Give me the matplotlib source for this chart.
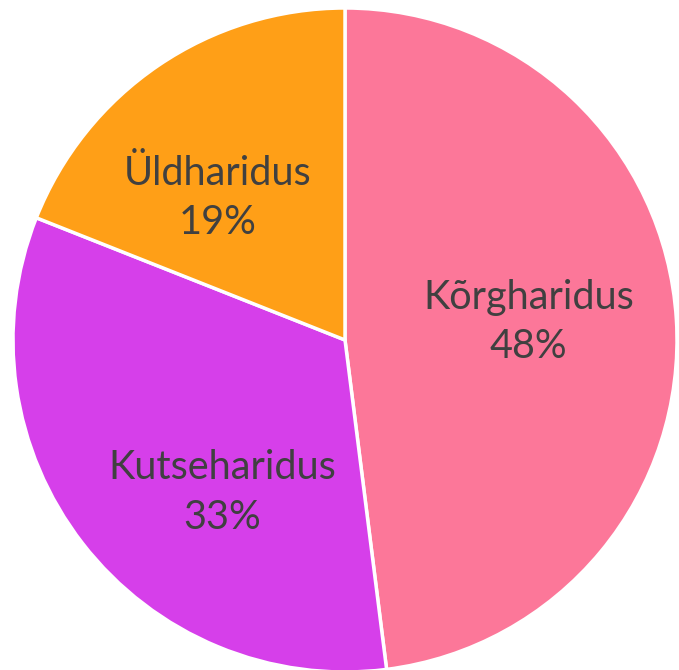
import numpy as np
import matplotlib.pyplot as plt

labels = ["Kõrgharidus", "Kutseharidus", "Üldharidus"]
shares = [48, 33, 19]
colors = ["#FC7799", "#D63FEA", "#FF9F17"]


def main():
    fig = plt.figure(figsize=(6.79, 6.70), dpi=100)
    ax = fig.add_axes([0, 0, 1, 1])

    # centre at (345, 340) px from top-left, radius 332 px
    R = 332
    wedges, _ = ax.pie(shares, colors=colors, startangle=90, counterclock=False,
                       radius=R, center=(0, 0),
                       wedgeprops=dict(edgecolor="white", linewidth=2.5))
    ax.set_xlim(-345, 679 - 345)
    ax.set_ylim(-(670 - 340), 340)
    ax.set_aspect("auto")
    ax.axis("off")

    # label placement: (radius fraction, angle shift from wedge middle)
    place = [(0.555, 2.0), (0.59, 13.4), (0.574, 7.6)]
    for w, lab, s, (fr, shift) in zip(wedges, labels, shares, place):
        ang = np.deg2rad((w.theta1 + w.theta2) / 2 + shift)
        x = fr * R * np.cos(ang)
        y = fr * R * np.sin(ang)
        ax.text(x, y, f"{lab}\n{s}%", ha="center", va="center", fontsize=28.5,
                color="#404040", family="Lato", linespacing=1.42)

    fig.savefig("out.png", dpi=100)


if __name__ == "__main__":
    main()
